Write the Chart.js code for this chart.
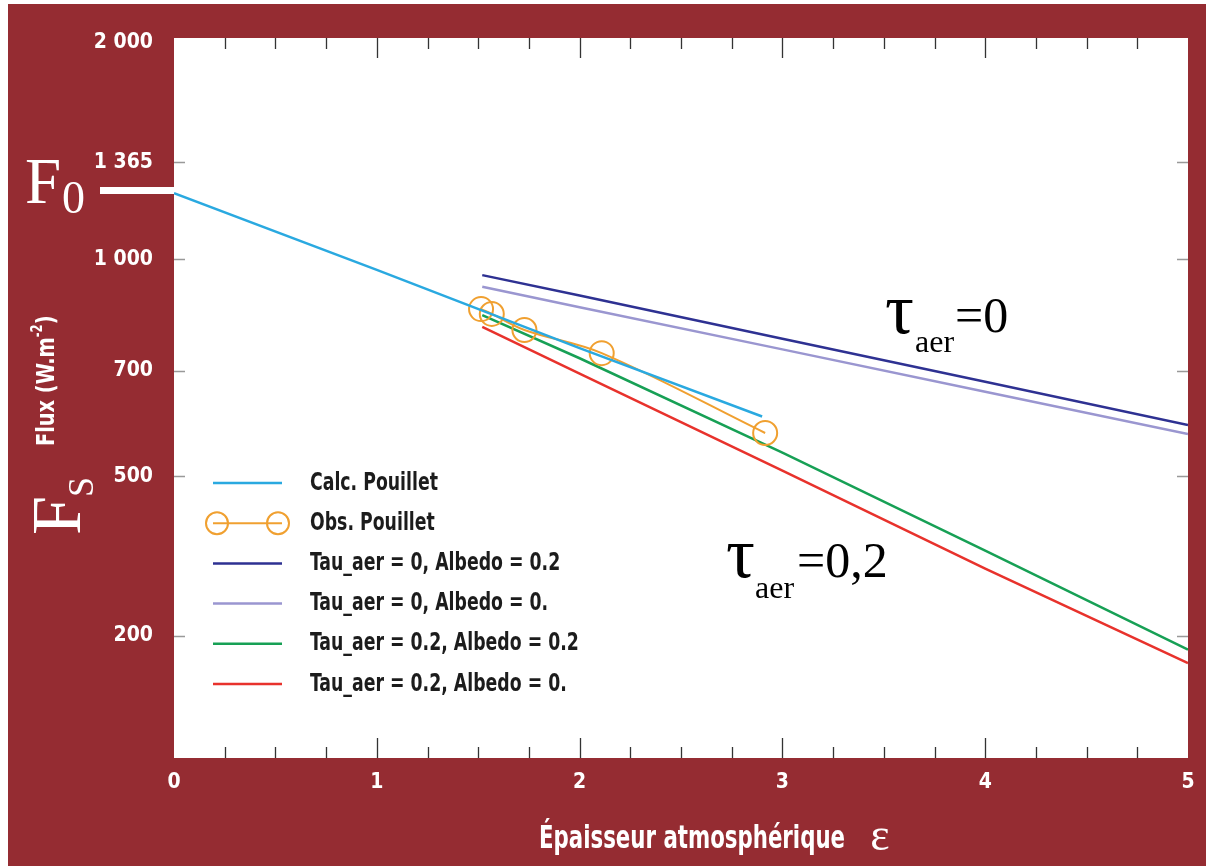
<!DOCTYPE html>
<html>
<head>
<meta charset="utf-8">
<script src="https://cdn.jsdelivr.net/npm/chart.js@4.4.1/dist/chart.umd.min.js"></script>
<style>
  body { margin: 0; background: #fff; }
  #wrap { width: 1206px; height: 866px; }
</style>
</head>
<body>
<div id="wrap"><canvas id="fluxChart" width="1206" height="866"></canvas></div>
<script>
// ======================
// DATA
// ======================
const epsCalc = [0, 1, 2, 2.9];
const fluxCalc = [1236, 967, 753, 605];

const epsObs = [1.514, 1.567, 1.728, 2.109, 2.915];
const fluxObs = [853, 840, 798, 741, 574];

const epsModel = [1.52, 2, 3, 4, 5];
const fluxTau0Alb02 = [951, 891, 776, 676, 589];
const fluxTau0Alb0 = [916, 858, 750, 655, 572];
const fluxTau02Alb02 = [837, 729, 539, 394, 287];
const fluxTau02Alb0 = [806, 694, 509, 372, 275];

const seriesLabels = [
  "Calc. Pouillet",
  "Obs. Pouillet",
  "Tau_aer = 0, Albedo = 0.2",
  "Tau_aer = 0, Albedo = 0.",
  "Tau_aer = 0.2, Albedo = 0.2",
  "Tau_aer = 0.2, Albedo = 0."
];
const seriesColors = ["#2aa9e0", "#f0a030", "#2e3192", "#9a96d0", "#17a055", "#e8322c"];

const yTickValues = [300, 500, 700, 1000, 1365, 2000];
const yTickLabels = ["200", "500", "700", "1 000", "1 365", "2 000"];

const RED = "#952c32";
const NARROW = '"DejaVu Sans Condensed", "Liberation Sans Narrow", sans-serif';
const SERIF = '"Liberation Serif", "DejaVu Serif", serif';

const pts = (xs, ys) => xs.map((x, i) => ({ x: x, y: ys[i] }));

// text squeezed horizontally, to get near the condensed face of the original
function narrowText(c, txt, x, y, sx) {
  c.save();
  c.translate(x, y);
  c.scale(sx, 1);
  c.fillText(txt, 0, 0);
  c.restore();
}

// ======================
// BACKGROUND + DECORATIONS
// ======================
const frame = {
  id: "frame",
  beforeDraw(chart) {
    const c = chart.ctx, a = chart.chartArea;
    c.save();
    c.fillStyle = "#fff";
    c.fillRect(0, 0, chart.width, chart.height);
    c.fillStyle = RED;
    c.fillRect(8, 4, chart.width - 8, chart.height - 4);
    c.fillStyle = "#fff";
    c.fillRect(a.left, a.top, a.right - a.left, a.bottom - a.top);
    c.restore();
  },
  afterDatasetsDraw(chart) {
    const c = chart.ctx, a = chart.chartArea;
    const xs = chart.scales.x, ys = chart.scales.y;
    c.save();

    // tick marks, inward
    c.lineWidth = 1.3;
    c.strokeStyle = "#333";
    xs.ticks.forEach(t => {
      if (t.value <= 0 || t.value >= 5) return;
      const px = Math.round(xs.getPixelForValue(t.value)) + 0.5;
      const len = Number.isInteger(t.value) ? 20 : 11;
      c.beginPath();
      c.moveTo(px, a.bottom); c.lineTo(px, a.bottom - len);
      c.moveTo(px, a.top); c.lineTo(px, a.top + len);
      c.stroke();
    });
    c.strokeStyle = "#999";
    ys.ticks.forEach(t => {
      if (t.value >= 2000) return;
      const py = Math.round(ys.getPixelForValue(t.value)) + 0.5;
      c.beginPath();
      c.moveTo(a.left, py); c.lineTo(a.left + 11, py);
      c.moveTo(a.right, py); c.lineTo(a.right - 11, py);
      c.stroke();
    });

    // legend
    const lx0 = 213, lx1 = 282, ly0 = 483, lstep = 40.2;
    chart.data.datasets.forEach((ds, i) => {
      const y = ly0 + i * lstep;
      c.strokeStyle = ds.borderColor;
      c.lineWidth = i === 1 ? 2 : 2.5;
      c.beginPath(); c.moveTo(lx0, y); c.lineTo(lx1, y); c.stroke();
      if (i === 1) {
        [217, 278].forEach(cx => {
          c.beginPath(); c.arc(cx, y, 11, 0, Math.PI * 2); c.stroke();
        });
      }
      c.fillStyle = "#1c1c1c";
      c.font = "bold 25px " + NARROW;
      c.textBaseline = "middle";
      c.textAlign = "left";
      narrowText(c, ds.label, 310, y, 0.77);
    });

    // tau annotations
    c.fillStyle = "#000";
    c.textBaseline = "alphabetic";
    c.font = "72px " + SERIF; c.fillText("τ", 885, 333);
    c.font = "32px " + SERIF; c.fillText("aer", 915, 352);
    c.font = "50px " + SERIF; c.fillText("=0", 955, 332);
    c.font = "72px " + SERIF; c.fillText("τ", 726, 577);
    c.font = "32px " + SERIF; c.fillText("aer", 755, 598);
    c.font = "50px " + SERIF; c.fillText("=0,2", 797, 577);

    // F0 marker
    c.fillStyle = "#fff";
    c.fillRect(100, 187, a.left - 100, 7);
    c.font = "65px " + SERIF; c.fillText("F", 25, 203);
    c.font = "46px " + SERIF; c.fillText("0", 62, 213);

    // Fs, rotated
    c.save();
    c.translate(80, 535);
    c.rotate(-Math.PI / 2);
    c.font = "70px " + SERIF; c.fillText("F", 0, 0);
    c.font = "36px " + SERIF; c.fillText("S", 38, 13);
    c.restore();

    // y title
    c.save();
    c.translate(54, 446);
    c.rotate(-Math.PI / 2);
    c.scale(0.86, 1);
    c.font = "bold 25px " + NARROW;
    let w = c.measureText("Flux (W.m").width;
    c.fillText("Flux (W.m", 0, 0);
    c.font = "bold 15px " + NARROW;
    c.fillText("-2", w, -12);
    w += c.measureText("-2").width;
    c.font = "bold 25px " + NARROW;
    c.fillText(")", w, 0);
    c.restore();

    // x title
    c.font = "bold 32px " + NARROW;
    c.textAlign = "center";
    narrowText(c, "Épaisseur atmosphérique", 692, 848, 0.74);
    c.font = "46px " + SERIF;
    c.fillText("ε", 880, 850);

    c.restore();
  }
};

// ======================
// CHART
// ======================
const lineDs = (i, data) => ({
  label: seriesLabels[i],
  data: data,
  borderColor: seriesColors[i],
  borderWidth: 2.5,
  pointRadius: 0,
  tension: 0,
  fill: false
});

const datasets = [
  lineDs(0, pts(epsCalc, fluxCalc)),
  {
    label: seriesLabels[1],
    data: pts(epsObs, fluxObs),
    borderColor: seriesColors[1],
    borderWidth: 2,
    pointRadius: 12,
    pointBorderWidth: 2,
    pointBorderColor: seriesColors[1],
    pointBackgroundColor: "rgba(0,0,0,0)",
    tension: 0.35,
    fill: false
  },
  lineDs(2, pts(epsModel, fluxTau0Alb02)),
  lineDs(3, pts(epsModel, fluxTau0Alb0)),
  lineDs(4, pts(epsModel, fluxTau02Alb02)),
  lineDs(5, pts(epsModel, fluxTau02Alb0))
];

new Chart(document.getElementById("fluxChart"), {
  type: "line",
  data: { datasets: datasets },
  options: {
    responsive: false,
    animation: false,
    layout: { padding: { left: 0, top: 38, right: 18, bottom: 0 } },
    plugins: { legend: { display: false }, tooltip: { enabled: false } },
    scales: {
      x: {
        type: "linear",
        min: 0, max: 5,
        grid: { display: false },
        border: { display: false },
        afterFit: s => { s.height = 108; },
        ticks: {
          stepSize: 0.25,
          autoSkip: false,
          maxRotation: 0,
          padding: 4,
          color: "#fff",
          font: { family: NARROW, size: 21, weight: "bold" },
          callback: v => Number.isInteger(v) ? String(v) : ""
        }
      },
      y: {
        type: "logarithmic",
        min: 203, max: 2030,
        grid: { display: false },
        border: { display: false },
        afterFit: s => { s.width = 174; },
        afterBuildTicks: s => { s.ticks = yTickValues.map(v => ({ value: v })); },
        ticks: {
          autoSkip: false,
          padding: 13,
          color: "#fff",
          font: { family: NARROW, size: 21, weight: "bold" },
          callback: (v, i) => yTickLabels[i]
        }
      }
    }
  },
  plugins: [frame]
});
</script>
</body>
</html>
